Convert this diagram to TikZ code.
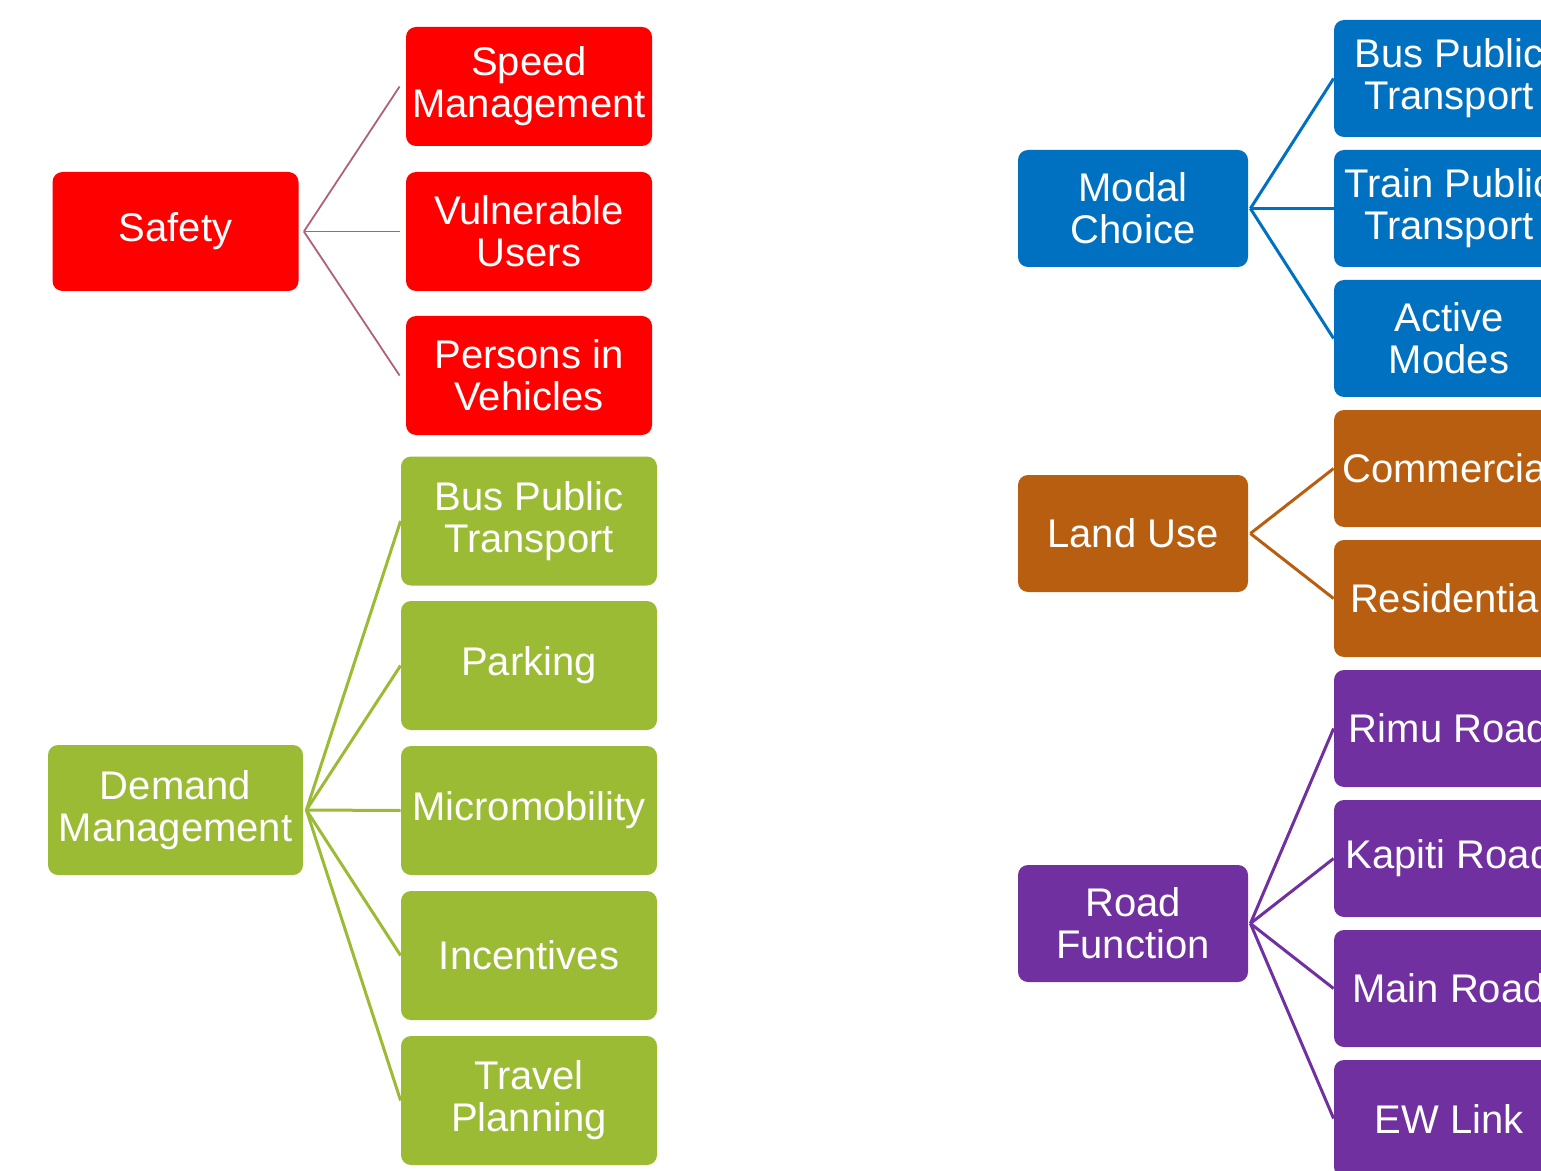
\documentclass[tikz,border=0pt]{standalone}
\usepackage{fontspec}
\setmainfont{Liberation Sans}
\definecolor{cred}{HTML}{FF0000}
\definecolor{cmauve}{HTML}{B0607A}
\definecolor{cgreen}{HTML}{9BBB35}
\definecolor{cblue}{HTML}{0070C0}
\definecolor{corange}{HTML}{B85E10}
\definecolor{cpurple}{HTML}{7030A0}
\tikzset{
  box/.style={rounded corners=5pt, text=white, align=center, inner sep=0pt,
    font=\fontsize{20}{21}\selectfont},
  redbox/.style={box, fill=cred, minimum width=123pt, minimum height=59.5pt},
  greenbox/.style={box, fill=cgreen, minimum width=128pt, minimum height=64.5pt},
  rightbox/.style={box, minimum width=115pt, minimum height=58.5pt},
  redline/.style={draw=cmauve, line width=0.9pt},
  greenline/.style={draw=cgreen, line width=1.5pt},
  blueline/.style={draw=cblue, line width=1.5pt},
  orangeline/.style={draw=corange, line width=1.5pt},
  purpleline/.style={draw=cpurple, line width=1.5pt}
}
\begin{document}
\begin{tikzpicture}[x=0.5pt,y=-0.5pt]
\useasboundingbox (0,0) rectangle (1541,1171);
\clip (0,0) rectangle (1541,1171);
% Safety
\node[redbox] (safety) at (175.5,231.5) {Safety};
\node[redbox] (speed) at (529,86.5) {Speed\\Management};
\node[redbox] (vuln) at (529,231.5) {Vulnerable\\Users};
\node[redbox] (pers) at (529,375.5) {Persons in\\Vehicles};
\foreach \c in {speed,vuln,pers}
  \draw[redline] ([xshift=2.5pt]safety.east) -- ([xshift=-3pt]\c.west);
% Demand Management
\node[greenbox, minimum width=127.5pt, minimum height=65pt] (demand) at (175.5,810) {Demand\\Management};
\node[greenbox] (gbus) at (529,521) {Bus Public\\Transport};
\node[greenbox] (park) at (529,665.5) {Parking};
\node[greenbox] (micro) at (529,810.5) {Micromobility};
\node[greenbox] (incent) at (529,955.5) {Incentives};
\node[greenbox] (travel) at (529,1100.5) {Travel\\Planning};
\foreach \c in {gbus,park,micro,incent,travel}
  \draw[greenline] ([xshift=1.5pt]demand.east) -- (\c.west);
% Modal Choice
\node[rightbox, fill=cblue] (modal) at (1133,208.5) {Modal\\Choice};
\node[rightbox, fill=cblue] (bbus) at (1449,78.5) {Bus Public\\Transport};
\node[rightbox, fill=cblue] (train) at (1449,208.5) {Train Public\\Transport};
\node[rightbox, fill=cblue] (active) at (1449,338.5) {Active\\Modes};
\foreach \c in {bbus,train,active}
  \draw[blueline] ([xshift=1pt]modal.east) -- (\c.west);
% Land Use
\node[rightbox, fill=corange] (land) at (1133,533.5) {Land Use};
\node[rightbox, fill=corange] (comm) at (1449,468.5) {Commercial};
\node[rightbox, fill=corange] (resid) at (1449,598.5) {Residential};
\foreach \c in {comm,resid}
  \draw[orangeline] ([xshift=1pt]land.east) -- (\c.west);
% Road Function
\node[rightbox, fill=cpurple] (road) at (1133,923.5) {Road\\Function};
\node[rightbox, fill=cpurple] (rimu) at (1449,728.5) {Rimu Road};
\node[rightbox, fill=cpurple] (kapiti) at (1449,858.5) {Kapiti Road};
\node[rightbox, fill=cpurple] (main) at (1449,988.5) {Main Road};
\node[rightbox, fill=cpurple] (ew) at (1449,1118.5) {EW Link};
\foreach \c in {rimu,kapiti,main,ew}
  \draw[purpleline] ([xshift=1pt]road.east) -- (\c.west);
\end{tikzpicture}
\end{document}
